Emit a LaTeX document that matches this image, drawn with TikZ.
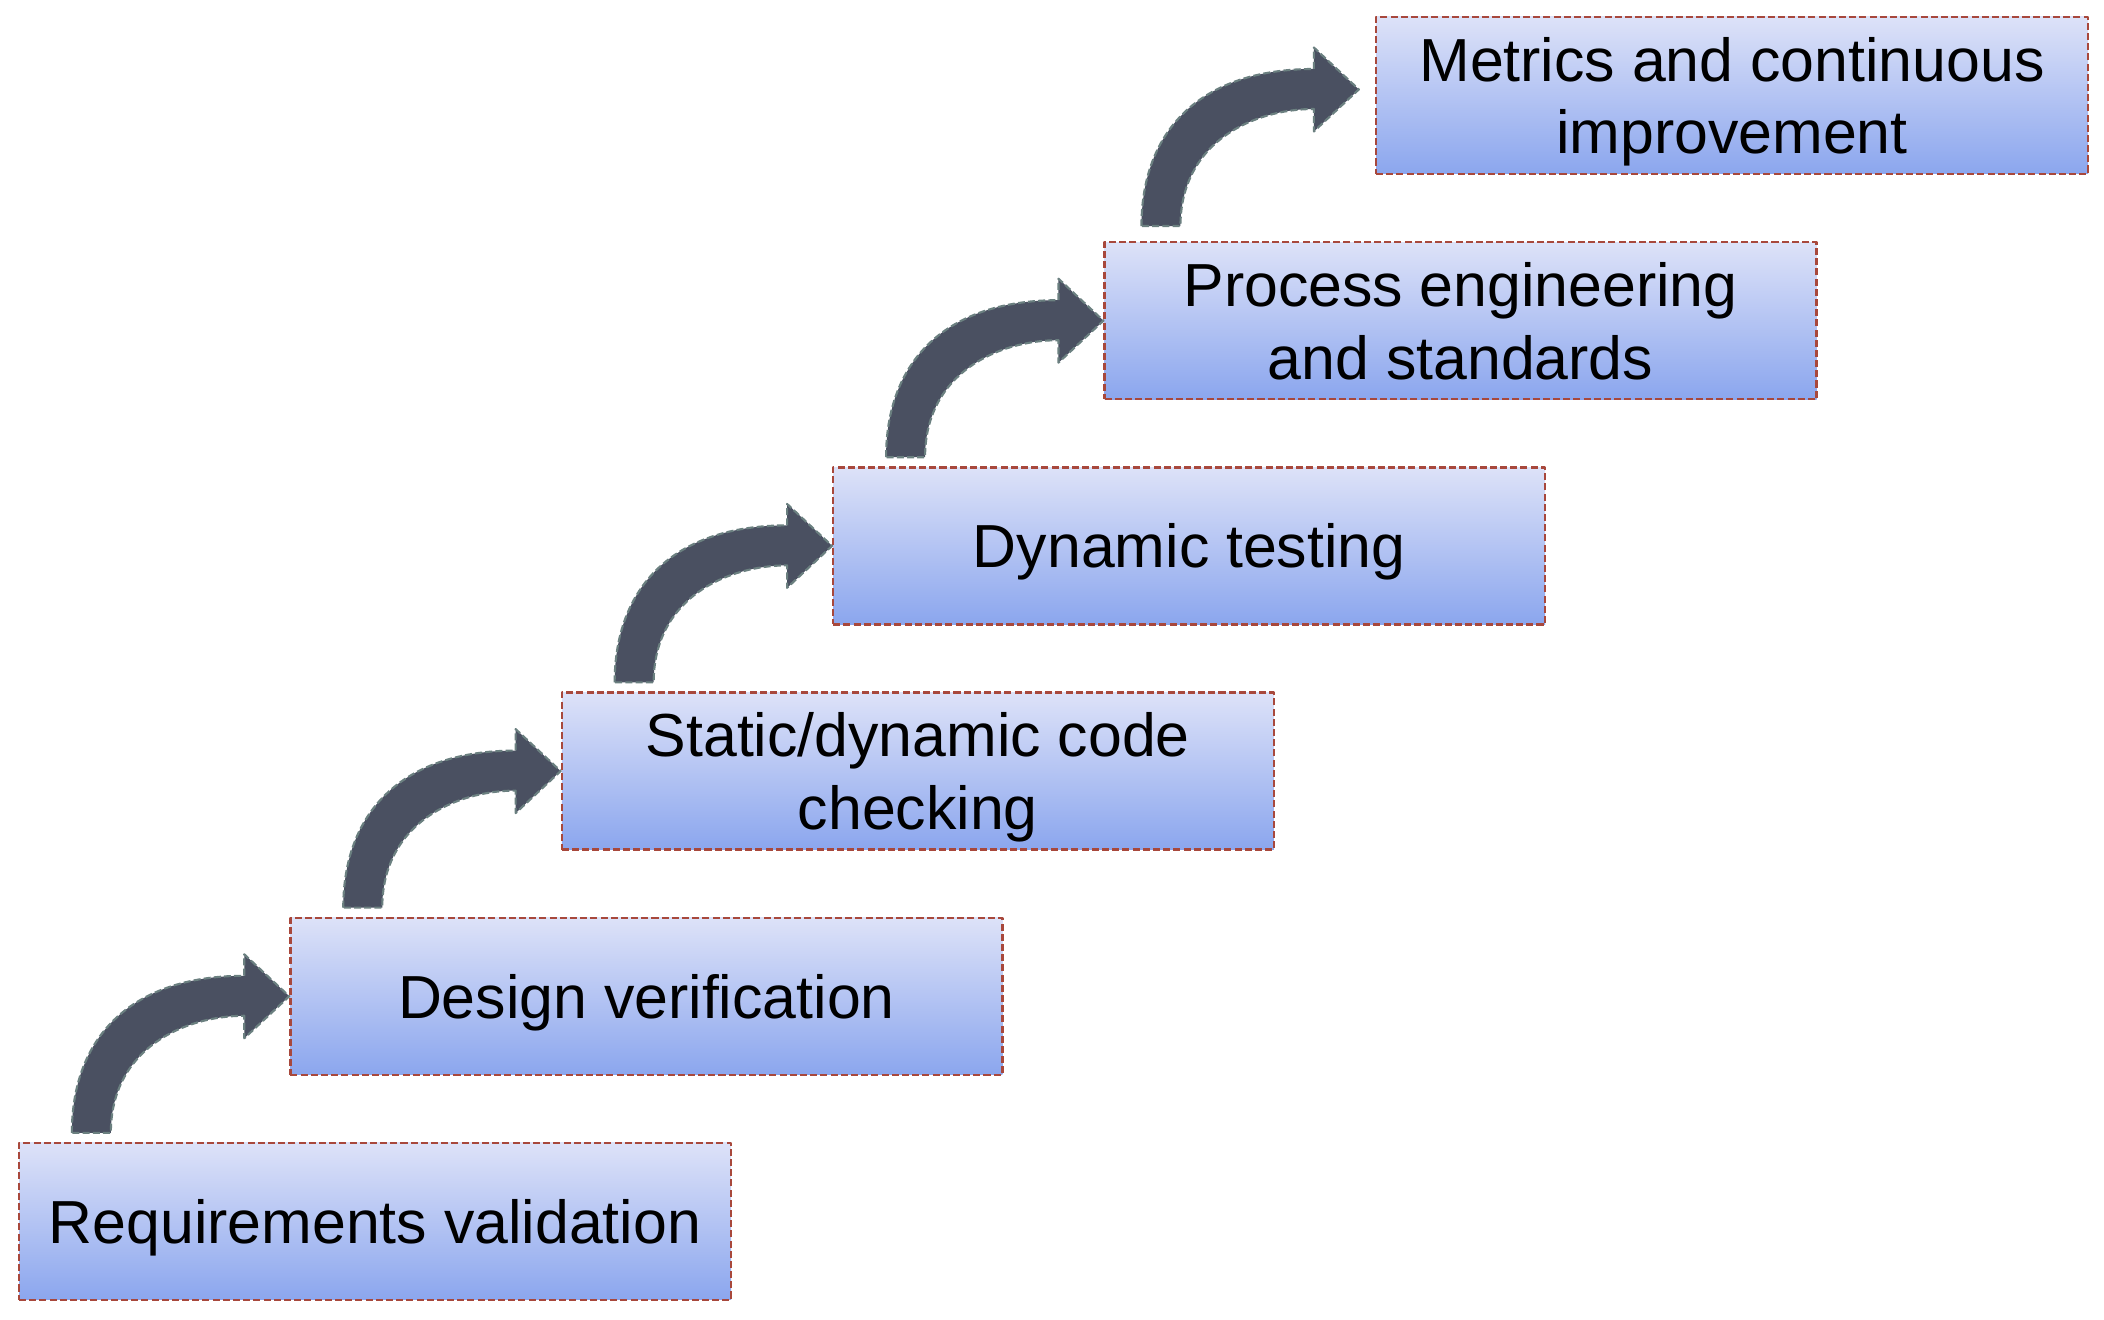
\documentclass[tikz,border=0pt]{standalone}
\usepackage{fontspec}
\setmainfont{Liberation Sans}
\usetikzlibrary{calc}
\definecolor{boxtop}{HTML}{DDE2F8}
\definecolor{boxbot}{HTML}{8BA6EE}
\definecolor{boxline}{HTML}{A8483C}
\definecolor{arrfill}{HTML}{4A5061}
\definecolor{arrline}{HTML}{6B8080}
\begin{document}
\begin{tikzpicture}[line join=round,font=\fontsize{17.3}{20.7}\selectfont,
	stepbox/.style={draw=boxline,line width=0.65pt,dash pattern=on 2pt off 0.9pt,top color=boxtop,bottom color=boxbot,minimum width=7.12cm,minimum height=1.57cm,align=center,inner sep=0pt,text depth=0pt},
	bigarrow/.style={draw=arrline,fill=arrfill,line width=0.6pt,dash pattern=on 2pt off 0.9pt}]
			\useasboundingbox (0,0) rectangle (21.04,13.2);
			\node[stepbox] (req) at (3.75,0.985) {Requirements validation};
			\node[stepbox] (des) at (6.464,3.237) {Design verification};
			\node[stepbox] (code) at (9.178,5.489) {Static/dynamic code\\checking};
			\node[stepbox] (dyn) at (11.892,7.741) {Dynamic testing};
			\node[stepbox] (proc) at (14.606,9.993) {Process engineering\\and standards};
			\node[stepbox] (metr) at (17.32,12.245) {Metrics and continuous\\improvement};
			\foreach \a/\b/\o in {req/des/0,des/code/0,code/dyn/0,dyn/proc/0,proc/metr/1}{
				\coordinate (tl) at ($(\a.north west)+(0.54-0.16*\o,0.09+0.06*\o)$);
				\coordinate (tip) at ($(\b.west)+(-0.16*\o,0.06*\o)$);
				\draw[bigarrow] (tl) .. controls +(0,0.94) and +(-1.15,0) .. ($(tip)+(-0.45,0.205)$)
					-- ($(tip)+(-0.45,0.42)$) -- (tip) -- ($(tip)+(-0.45,-0.42)$) -- ($(tip)+(-0.45,-0.195)$)
					.. controls +(-0.6,0) and +(0,0.84) .. ($(tl)+(0.39,0)$) -- cycle;
			}
		\end{tikzpicture}
\end{document}
